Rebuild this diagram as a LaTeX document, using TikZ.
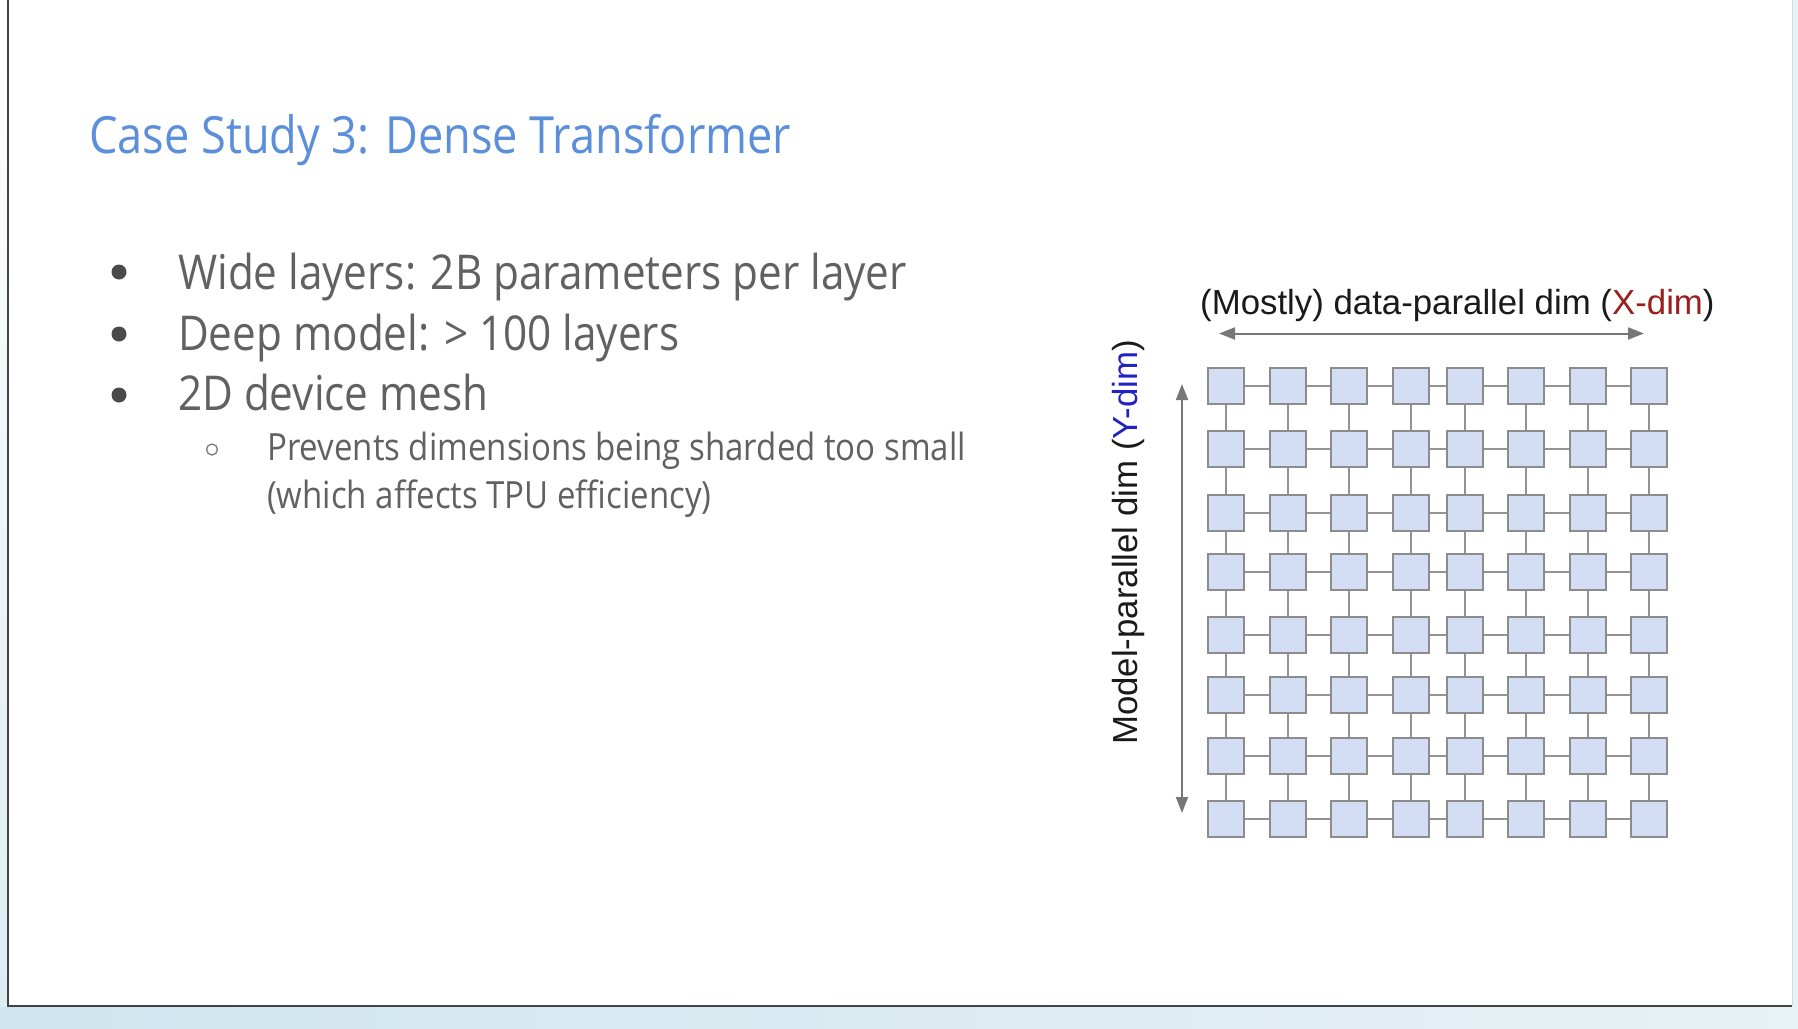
\documentclass[tikz,border=0pt]{standalone}
\usepackage{fontspec}
\setmainfont[FakeStretch=0.88]{Open Sans}
\newfontfamily\labelfont{Liberation Sans}
\usetikzlibrary{arrows.meta}

\definecolor{titleblue}{HTML}{5B8EDB}
\definecolor{bodygray}{HTML}{616161}
\definecolor{dotgray}{HTML}{4A4A4A}
\definecolor{ringgray}{HTML}{7A7A7A}
\definecolor{cellfill}{HTML}{D3DEF4}
\definecolor{cellline}{HTML}{8C8C8C}
\definecolor{linkgray}{HTML}{939393}
\definecolor{arrowgray}{HTML}{777777}
\definecolor{labelblack}{HTML}{1A1A1A}
\definecolor{xred}{HTML}{9A1F1F}
\definecolor{yblue}{HTML}{2222C4}
\definecolor{bgleft}{HTML}{CFE5EF}
\definecolor{bgright}{HTML}{E8F1F5}
\definecolor{framedark}{HTML}{444444}
\definecolor{framelight}{HTML}{D5DCE0}

\begin{document}
\begin{tikzpicture}[x=1pt,y=-1pt,
  cell/.style={draw=cellline, fill=cellfill, line width=2pt, minimum size=36pt, inner sep=0pt},
  link/.style={draw=linkgray, line width=2pt},
  axis/.style={draw=arrowgray, fill=arrowgray, line width=2pt,
    {Triangle[length=16pt,width=12pt]}-{Triangle[length=16pt,width=12pt]}},
  txt/.style={inner sep=0pt, anchor=base west},
  titletext/.style={txt, text=titleblue, font=\fontsize{51.3}{61}\selectfont},
  bullettext/.style={txt, text=bodygray, font=\fontsize{48}{58}\selectfont},
  subtext/.style={txt, text=bodygray, font=\fontsize{37.5}{45}\selectfont},
  axistext/.style={txt, text=labelblack, font=\labelfont\fontsize{34.8}{41}\selectfont},
  dot/.style={circle, fill=dotgray, minimum size=15pt, inner sep=0pt},
  ring/.style={circle, draw=ringgray, line width=1.3pt, minimum size=11pt, inner sep=0pt}
]
\useasboundingbox (0,0) rectangle (1798,1028);

% backdrop and slide sheet
\fill[left color=bgleft, right color=bgright] (0,0) rectangle (1798,1028);
\fill[top color=white, bottom color=bgleft!70] (0,0) rectangle (8,1006);
\fill[white] (8,0) rectangle (1792,1006);
\draw[framelight, line width=1pt] (1792,0) -- (1792,1006);
\draw[framedark, line width=2pt] (8,0) -- (8,1006) -- (1792,1006);

% title and bullet list
\node[titletext] (title) at (89,153) {Case Study 3: Dense Transformer};

\node[dot] (b1) at (119,272) {};
\node[dot] (b2) at (119,334) {};
\node[dot] (b3) at (119,395) {};
\node[bullettext] (t1) at (178,289) {Wide layers: 2B parameters per layer};
\node[bullettext] (t2) at (178,350) {Deep model: > 100 layers};
\node[bullettext] (t3) at (178,410.5) {2D device mesh};

\node[ring] (s1) at (212,449.5) {};
\node[subtext] (u1) at (267,460) {Prevents dimensions being sharded too small};
\node[subtext] (u2) at (267,508) {(which affects TPU efficiency)};

% 8 x 8 device mesh
\foreach \x [count=\i] in {1226,1287.5,1349,1411,1464.5,1526,1587.5,1649}{
  \foreach \y [count=\j] in {385.5,449,512.6,572.2,635.3,694.9,755.5,818.8}{
    \node[cell] (c\i-\j) at (\x,\y) {};
  }
}
\foreach \i in {1,...,8}{
  \foreach \j in {1,...,7}{
    \pgfmathtruncatemacro{\n}{\j+1}
    \draw[link] (c\i-\j) -- (c\i-\n);
    \draw[link] (c\j-\i) -- (c\n-\i);
  }
}

% mesh axes
\coordinate (xl) at (1219,333.5);
\coordinate (xr) at (1644,333.5);
\coordinate (yt) at (1182,384);
\coordinate (yb) at (1182,813);
\draw[axis] (xl) -- (xr);
\draw[axis] (yt) -- (yb);

\node[axistext] (xlabel) at (1200,314) {(Mostly) data-parallel dim (\textcolor{xred}{X-dim})};
\node[axistext, rotate=90] (ylabel) at (1137,745) {Model-parallel dim (\textcolor{yblue}{Y-dim})};
\end{tikzpicture}
\end{document}
